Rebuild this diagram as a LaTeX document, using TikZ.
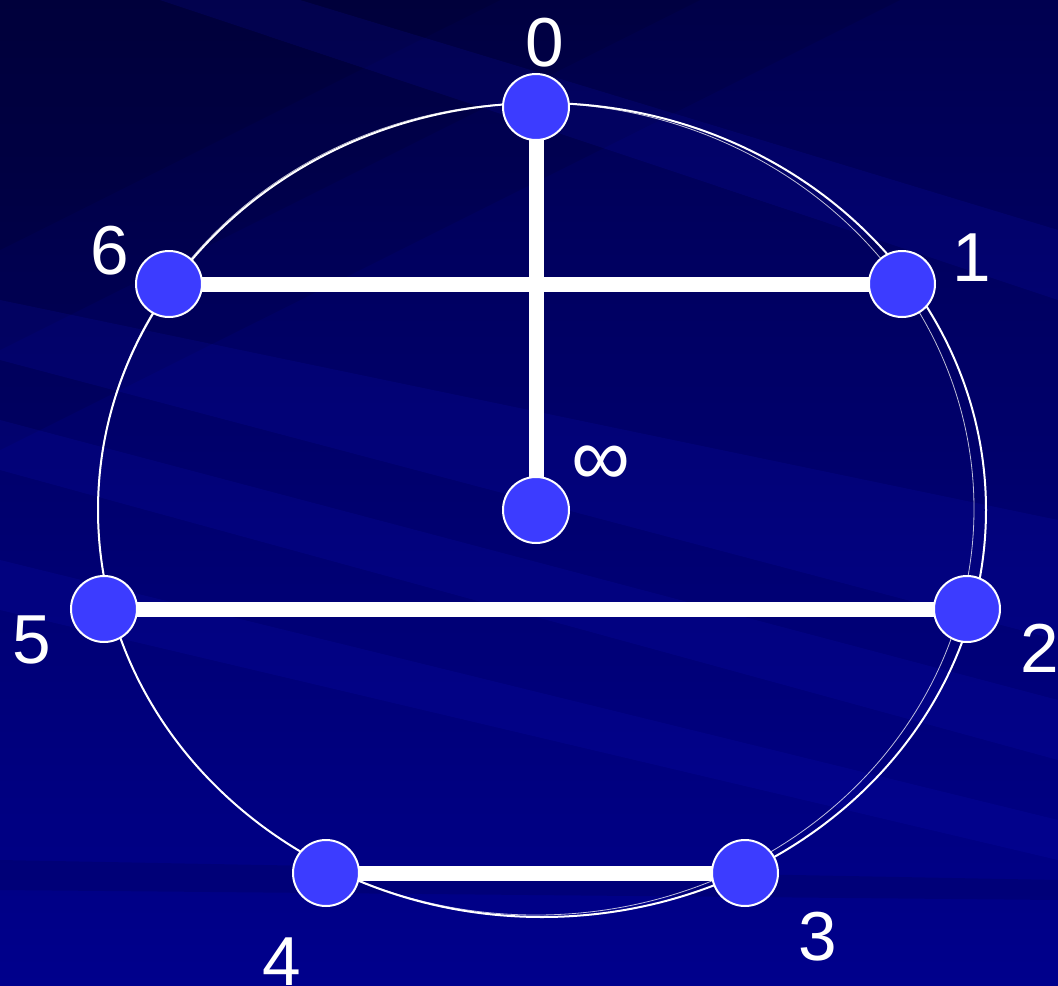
\documentclass[tikz,border=0pt]{standalone}
\usepackage{fontspec}
\setmainfont{Liberation Sans}
\definecolor{bgtop}{RGB}{0,0,80}
\definecolor{bgbot}{RGB}{0,0,140}
\definecolor{streak}{RGB}{20,20,200}
\definecolor{nodeblue}{RGB}{60,60,255}
\pgfdeclarelayer{back}
\pgfdeclarelayer{edges}
\pgfsetlayers{back,edges,main}
\tikzset{
  vtx/.style={circle, fill=nodeblue, draw=white, line width=1.5pt, minimum size=49.5pt, inner sep=0pt},
  lbl/.style={text=white, inner sep=0pt, font=\fontsize{52}{60}\selectfont},
  edge/.style={draw=white, line width=11.25pt},
  rim/.style={draw=white, line width=1.5pt},
  rimthin/.style={draw=white, opacity=0.75, line width=0.6pt},
  streakfill/.style={fill=streak, opacity=0.14},
  darkfill/.style={fill=black, opacity=0.09}
}
\begin{document}
\begin{tikzpicture}[x=0.75pt,y=-0.75pt]
\useasboundingbox (0,0) rectangle (1058,986);
\begin{pgfonlayer}{back}
  \shade[top color=bgtop, bottom color=bgbot] (0,0) rectangle (1058,986);
  \fill[darkfill] (0,0) -- (900,0) -- (0,450) -- cycle;
  \fill[darkfill] (0,0) -- (700,0) -- (0,350) -- cycle;
  \fill[darkfill] (0,0) -- (500,0) -- (0,250) -- cycle;
  \fill[streakfill] (0,300) -- (1058,520) -- (1058,640) -- (0,360) -- cycle;
  \fill[streakfill] (0,420) -- (1058,700) -- (1058,760) -- (0,470) -- cycle;
  \fill[streakfill] (300,0) -- (1058,230) -- (1058,300) -- (160,0) -- cycle;
  \fill[streakfill] (0,560) -- (1058,820) -- (1058,860) -- (0,610) -- cycle;
  \fill[black, opacity=0.1] (0,860) -- (1058,880) -- (1058,900) -- (0,890) -- cycle;
  \draw[rimthin] (536,509) ellipse [x radius=328.5pt, y radius=304.5pt];
  \draw[rim] (542,510) ellipse [x radius=333pt, y radius=305.25pt];
\end{pgfonlayer}

\node[vtx] (n0) at (536,107) {};
\node[vtx] (n1) at (902,284) {};
\node[vtx] (n6) at (169,284) {};
\node[vtx] (ninf) at (536,510) {};
\node[vtx] (n5) at (104,609) {};
\node[vtx] (n2) at (967,609) {};
\node[vtx] (n4) at (326,873) {};
\node[vtx] (n3) at (745,873) {};

\begin{pgfonlayer}{edges}
  \draw[edge] (n0.center) -- (ninf.center);
  \draw[edge] (n6.center) -- (n1.center);
  \draw[edge] (n5.center) -- (n2.center);
  \draw[edge] (n4.center) -- (n3.center);
\end{pgfonlayer}

\node[lbl] (l0) at (545,43) {0};
\node[lbl] (l1) at (972,258) {1};
\node[lbl] (l6) at (110,251) {6};
\node[lbl, font=\fontsize{62}{70}\selectfont] (linf) at (601,466) {∞};
\node[lbl] (l5) at (32,640) {5};
\node[lbl] (l2) at (1040,648) {2};
\node[lbl] (l3) at (818,937) {3};
\node[lbl] (l4) at (282,962) {4};
\end{tikzpicture}
\end{document}
